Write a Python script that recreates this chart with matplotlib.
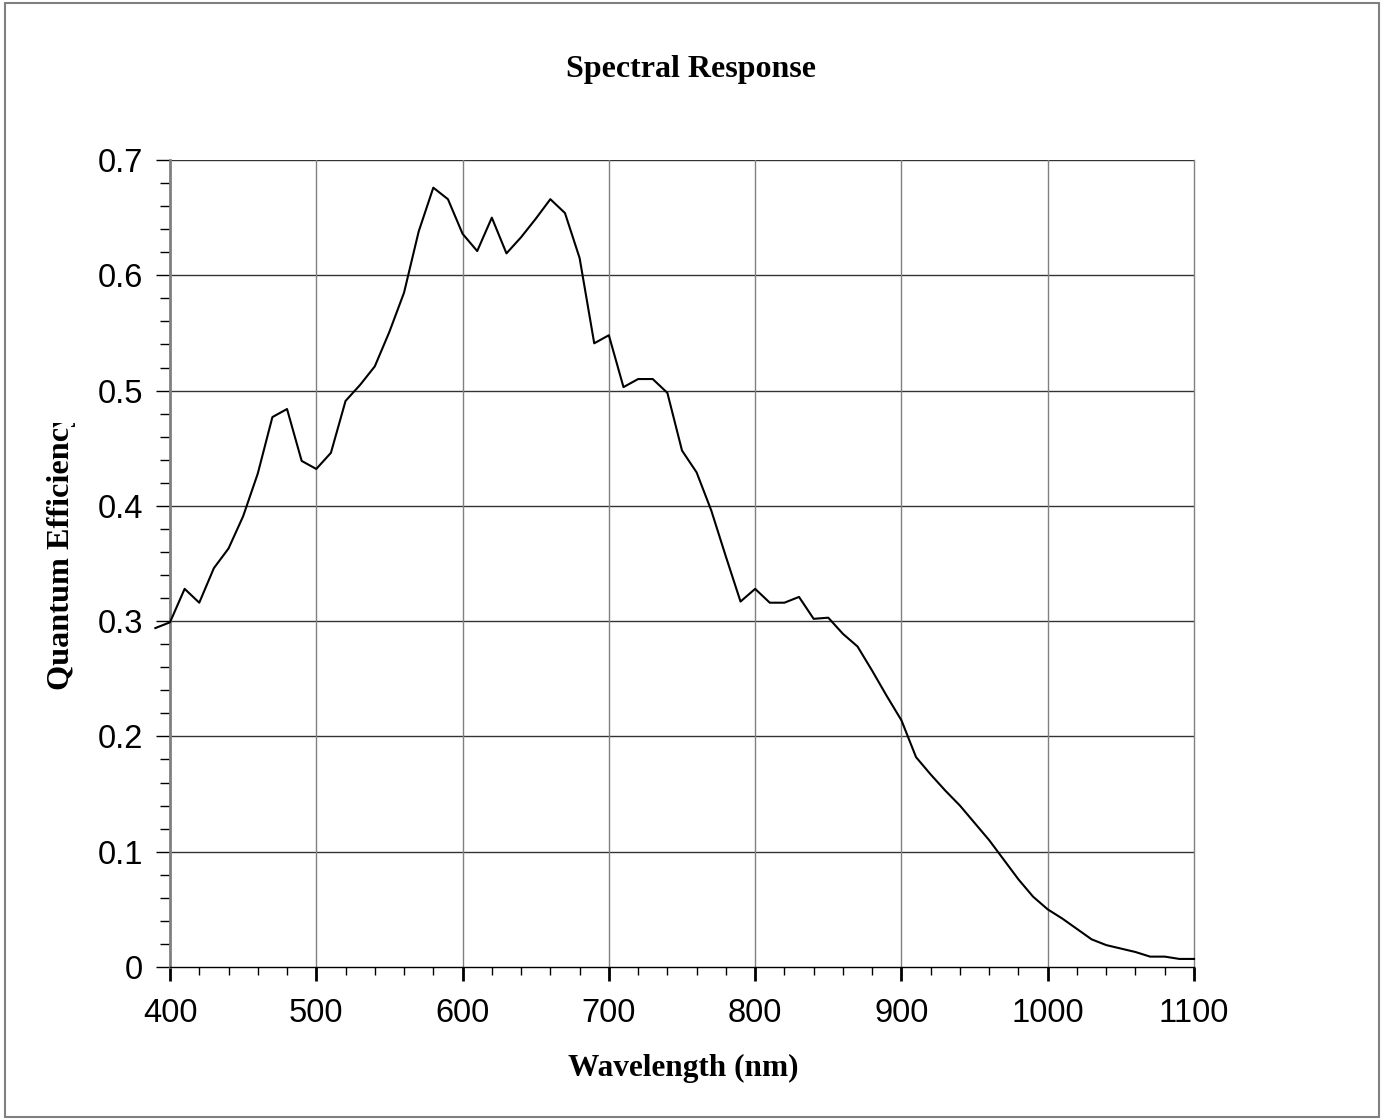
import matplotlib
matplotlib.use("Agg")
import matplotlib.pyplot as plt
from matplotlib.patches import Rectangle
from matplotlib.transforms import Bbox, TransformedBbox
import numpy as np

wavelength = [390, 400, 410, 420, 430, 440, 450, 460, 470, 480, 490, 500, 510, 520, 530,
              540, 550, 560, 570, 580, 590, 600, 610, 620, 630, 640, 650, 660, 670, 680,
              690, 700, 710, 720, 730, 740, 750, 760, 770, 780, 790, 800, 810, 820, 830,
              840, 850, 860, 870, 880, 890, 900, 910, 920, 930, 940, 950, 960, 970, 980,
              990, 1000, 1010, 1020, 1030, 1040, 1050, 1060, 1070, 1080, 1090, 1100]
qe = [0.294, 0.299, 0.328, 0.316, 0.346, 0.363, 0.391, 0.428, 0.477, 0.484, 0.439, 0.432,
      0.446, 0.491, 0.505, 0.521, 0.551, 0.585, 0.638, 0.676, 0.666, 0.636, 0.621, 0.650,
      0.619, 0.633, 0.649, 0.666, 0.654, 0.615, 0.541, 0.548, 0.503, 0.510, 0.510, 0.498,
      0.448, 0.429, 0.396, 0.356, 0.317, 0.328, 0.316, 0.316, 0.321, 0.302, 0.303, 0.289,
      0.278, 0.257, 0.235, 0.214, 0.182, 0.167, 0.153, 0.140, 0.125, 0.110, 0.093, 0.076,
      0.061, 0.050, 0.042, 0.033, 0.024, 0.019, 0.016, 0.013, 0.009, 0.009, 0.007, 0.007]

x_ticks = [400, 500, 600, 700, 800, 900, 1000, 1100]
y_ticks = [0, 0.1, 0.2, 0.3, 0.4, 0.5, 0.6, 0.7]
y_ticklabels = ["0", "0.1", "0.2", "0.3", "0.4", "0.5", "0.6", "0.7"]

W, H = 1388, 1120
fig = plt.figure(figsize=(W / 100, H / 100), dpi=100)
fig.patch.set_facecolor("white")

# figure border
fig.patches.append(Rectangle((5 / W, 3 / H), (1379 - 5) / W, (1117 - 3) / H,
                             transform=fig.transFigure, fill=False,
                             edgecolor="#808080", linewidth=1.5))

ax = fig.add_axes([170 / W, 1 - 967 / H, (1194 - 170) / W, (967 - 160) / H])
ax.set_xlim(400, 1100)
ax.set_ylim(0, 0.7)

# grid
for yv in y_ticks[1:]:
    ax.axhline(yv, color="#333333", linewidth=1.0, zorder=1)
for xv in x_ticks[1:-1]:
    ax.axvline(xv, color="#808080", linewidth=1.0, zorder=1)

ax.plot(wavelength, qe, color="black", linewidth=1.5, zorder=3, clip_on=False)

ax.spines["top"].set_visible(False)
ax.spines["right"].set_color("#808080")
ax.spines["right"].set_linewidth(1.0)
ax.spines["left"].set_color("#808080")
ax.spines["left"].set_linewidth(2.0)
ax.spines["bottom"].set_color("black")
ax.spines["bottom"].set_linewidth(1.0)
ax.spines["bottom"].set_zorder(4)

ax.set_xticks(x_ticks)
ax.set_xticks(np.arange(420, 1100, 20), minor=True)
ax.set_yticks(y_ticks)
ax.set_yticklabels(y_ticklabels)
ax.set_yticks(np.arange(0.02, 0.7, 0.02), minor=True)

ax.tick_params(axis="x", which="major", direction="out", length=10, width=2,
               color="black", pad=12.5, labelsize=23.5)
ax.tick_params(axis="x", which="minor", direction="out", length=6, width=1,
               color="black")
ax.tick_params(axis="y", which="major", direction="out", length=10, width=1,
               color="black", pad=9.5, labelsize=23.5)
ax.tick_params(axis="y", which="minor", direction="out", length=7, width=1,
               color="black")
for lab in ax.get_xticklabels() + ax.get_yticklabels():
    lab.set_fontfamily("Liberation Sans")

fig.text(691 / W, 1 - 69 / H, "Spectral Response", ha="center", va="center",
         fontsize=23, fontweight="bold", fontfamily="Liberation Serif")
fig.text(683 / W, 1 - 1068 / H, "Wavelength (nm)", ha="center", va="center",
         fontsize=22.5, fontweight="bold", fontfamily="Liberation Serif")
yl = fig.text(62 / W, 1 - 690 / H, "Quantum Efficiency", ha="center", va="bottom",
              rotation=90, fontsize=23.2, fontweight="bold", fontfamily="Liberation Serif")
yl.set_clip_on(True)
yl.set_clip_box(TransformedBbox(Bbox([[0, 0], [1, 1 - 423 / H]]), fig.transFigure))

fig.savefig("out.png", dpi=100)
